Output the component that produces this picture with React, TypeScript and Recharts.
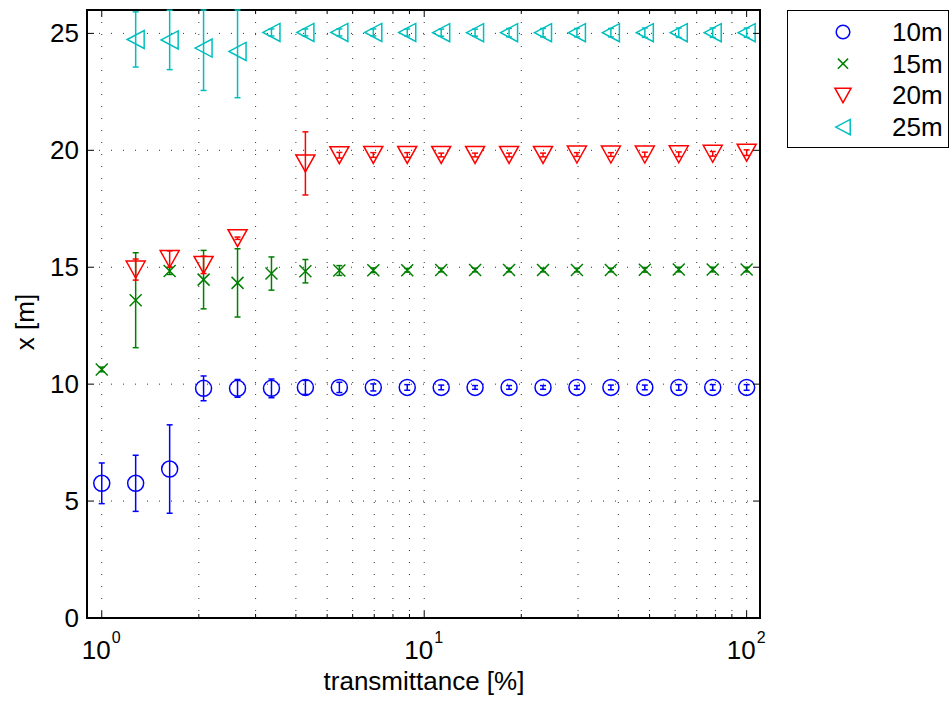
import React from 'react';
import { ScatterChart, Scatter, XAxis, YAxis, CartesianGrid, ErrorBar, ReferenceArea, Legend } from 'recharts';

// transmittance steps (%), log spaced between 1 and 100
const transmittance = [1, 1.274, 1.624, 2.069, 2.637, 3.36, 4.281, 5.456, 6.952, 8.859, 11.29, 14.38, 18.33, 23.36, 29.76, 37.93, 48.33, 61.58, 78.48, 100];

// estimated distance x [m] and its error, per target distance
const x10 = [5.76, 5.76, 6.37, 9.82, 9.82, 9.82, 9.86, 9.86, 9.86, 9.86, 9.86, 9.86, 9.86, 9.86, 9.86, 9.86, 9.86, 9.86, 9.86, 9.86];
const err10 = [0.87, 1.2, 1.89, 0.53, 0.38, 0.4, 0.3, 0.22, 0.15, 0.12, 0.1, 0.08, 0.08, 0.08, 0.08, 0.1, 0.1, 0.12, 0.12, 0.12];
const x15 = [10.63, 13.59, 14.84, 14.47, 14.33, 14.73, 14.83, 14.86, 14.87, 14.87, 14.88, 14.88, 14.88, 14.88, 14.88, 14.88, 14.89, 14.9, 14.9, 14.9];
const err15 = [0.1, 2.03, 0.15, 1.25, 1.46, 0.71, 0.5, 0.21, 0.1, 0.08, 0.08, 0.08, 0.08, 0.08, 0.08, 0.08, 0.1, 0.1, 0.1, 0.1];
const x20 = [null, 14.9, 15.35, 15.1, 16.24, null, 19.44, 19.79, 19.8, 19.8, 19.8, 19.8, 19.8, 19.8, 19.82, 19.82, 19.82, 19.83, 19.85, 19.9];
const err20 = [null, 0.45, 0.35, 0.37, 0.05, null, 1.35, 0.12, 0.1, 0.1, 0.08, 0.08, 0.08, 0.08, 0.08, 0.08, 0.1, 0.1, 0.1, 0.12];
const x25 = [null, 24.74, 24.72, 24.37, 24.23, 25.04, 25.04, 25.04, 25.04, 25.04, 25.03, 25.03, 25.03, 25.03, 25.03, 25.03, 25.03, 25.03, 25.03, 25.03];
const err25 = [null, 1.18, 1.27, 1.81, 1.98, 0.15, 0.15, 0.15, 0.15, 0.15, 0.15, 0.15, 0.18, 0.18, 0.18, 0.18, 0.2, 0.2, 0.2, 0.2];

const xTicks = [1, 2, 3, 4, 5, 6, 7, 8, 9, 10, 20, 30, 40, 50, 60, 70, 80, 90, 100];
const yTicks = [0, 5, 10, 15, 20, 25];
const Y_MAX = 26;

const FONT = '"Liberation Sans", Arial, Helvetica, sans-serif';
const FS = 26;
const W = 951;
const H = 702;
const PL = 87; // plot left
const PW = 673; // plot width
const PH = 608; // plot height

type Kind = 'circle' | 'cross' | 'down' | 'left';

const series: { name: string; color: string; kind: Kind; values: (number | null)[]; errors: (number | null)[] }[] = [
  { name: '10m', color: '#0000ff', kind: 'circle', values: x10, errors: err10 },
  { name: '15m', color: '#008000', kind: 'cross', values: x15, errors: err15 },
  { name: '20m', color: '#ff0000', kind: 'down', values: x20, errors: err20 },
  { name: '25m', color: '#00bfbf', kind: 'left', values: x25, errors: err25 },
];

// error bars are not clipped by the plot area, so the upper arm stops at the axis top
const toRows = (values: (number | null)[], errors: (number | null)[]) =>
  transmittance
    .map((t, i) => ({ t, x: values[i], err: errors[i] }))
    .filter((r) => r.x !== null)
    .map((r) => ({ ...r, errBar: [r.err as number, Math.min(r.err as number, Y_MAX - (r.x as number))] }));

const Marker = ({ cx, cy, kind, color, small }: { cx: number; cy: number; kind: Kind; color: string; small?: boolean }) => {
  const s = small ? 0.85 : 1;
  const common = { fill: 'none', stroke: color, strokeWidth: 1.5 };
  if (kind === 'circle') return <circle cx={cx} cy={cy} r={8 * s} {...common} />;
  if (kind === 'cross') {
    const d = 6 * s;
    return <path d={`M${cx - d},${cy - d}L${cx + d},${cy + d}M${cx - d},${cy + d}L${cx + d},${cy - d}`} {...common} />;
  }
  if (kind === 'down') {
    const w = 9.5 * s, h = 8.5 * s;
    return <path d={`M${cx - w},${cy - h}L${cx + w},${cy - h}L${cx},${cy + h}Z`} {...common} />;
  }
  const w = 8.5 * s, h = 9 * s;
  return <path d={`M${cx - w},${cy}L${cx + w},${cy - h}L${cx + w},${cy + h}Z`} {...common} />;
};

const XTick = ({ x, y, payload }: any) => {
  const v = payload.value;
  const major = v === 1 || v === 10 || v === 100;
  const len = major ? 7 : 4;
  return (
    <g>
      <line x1={x} x2={x} y1={y} y2={y - len} stroke="#000" />
      <line x1={x} x2={x} y1={y - PH} y2={y - PH + len} stroke="#000" />
      {major && (
        <>
          <text x={x + 9} y={y + 41} textAnchor="end" fontSize={FS} fontFamily={FONT} fill="#000">10</text>
          <text x={x + 10} y={y + 25} fontSize={16} fontFamily={FONT} fill="#000">{Math.round(Math.log10(v))}</text>
        </>
      )}
    </g>
  );
};

const YTick = ({ x, y, payload }: any) => (
  <g>
    <line x1={x} x2={x + 7} y1={y} y2={y} stroke="#000" />
    <line x1={x + PW} x2={x + PW - 7} y1={y} y2={y} stroke="#000" />
    <text x={x - 8} y={y + 9} textAnchor="end" fontSize={FS} fontFamily={FONT} fill="#000">{payload.value}</text>
  </g>
);

const LegendBox = () => (
  <div style={{ position: 'relative', width: 162, height: 138, boxSizing: 'border-box', border: '1.5px solid #000', background: '#fff' }}>
    <svg width={160} height={135} style={{ position: 'absolute', left: 0, top: 0, overflow: 'visible' }}>
      {series.map((s, i) => (
        <g key={s.name}>
          <Marker cx={55} cy={21 + i * 31.7} kind={s.kind} color={s.color} small />
          <text x={104} y={21 + i * 31.7 + 9} fontSize={FS} fontFamily={FONT} fill="#000">{s.name}</text>
        </g>
      ))}
    </svg>
  </div>
);

export default function App() {
  return (
    <div style={{ width: W, height: H, fontFamily: FONT }}>
      <style>{'body { margin: 0; }'}</style>
      <ScatterChart width={W} height={H} margin={{ top: 10, right: W - PL - PW, left: 0, bottom: 0 }}>
        <CartesianGrid stroke="#333" strokeDasharray="1 11" />
        <XAxis
          dataKey="t"
          type="number"
          scale="log"
          domain={[0.9, 110]}
          allowDataOverflow
          ticks={xTicks}
          interval={0}
          tick={<XTick />}
          tickSize={0}
          tickMargin={0}
          axisLine={false}
          tickLine={false}
          height={84}
          label={{
            content: () => (
              <text x={424} y={690} textAnchor="middle" fontSize={FS} fontFamily={FONT} fill="#000">transmittance [%]</text>
            ),
          }}
        />
        <YAxis
          dataKey="x"
          type="number"
          domain={[0, Y_MAX]}
          allowDataOverflow
          ticks={yTicks}
          interval={0}
          tick={<YTick />}
          tickSize={0}
          tickMargin={0}
          axisLine={false}
          tickLine={false}
          width={PL}
          label={{
            content: () => (
              <text transform="translate(34,322) rotate(-90)" textAnchor="middle" fontSize={FS} fontFamily={FONT} fill="#000">x [m]</text>
            ),
          }}
        />
        <ReferenceArea x1={0.9} x2={110} y1={0} y2={Y_MAX} fill="none" stroke="#000" strokeWidth={2} fillOpacity={0} />
        {series.map((s) => (
          <Scatter
            key={s.name}
            name={s.name}
            data={toRows(s.values, s.errors)}
            fill={s.color}
            isAnimationActive={false}
            shape={(p: any) => <Marker cx={p.cx} cy={p.cy} kind={s.kind} color={s.color} />}
          >
            <ErrorBar dataKey="errBar" direction="y" width={3} stroke={s.color} strokeWidth={1.5} />
          </Scatter>
        ))}
        <Legend
          layout="vertical"
          align="center"
          verticalAlign="middle"
          width={162}
          height={138}
          wrapperStyle={{ left: 787, top: 10, width: 162, height: 138 }}
          content={() => <LegendBox />}
        />
      </ScatterChart>
    </div>
  );
}
